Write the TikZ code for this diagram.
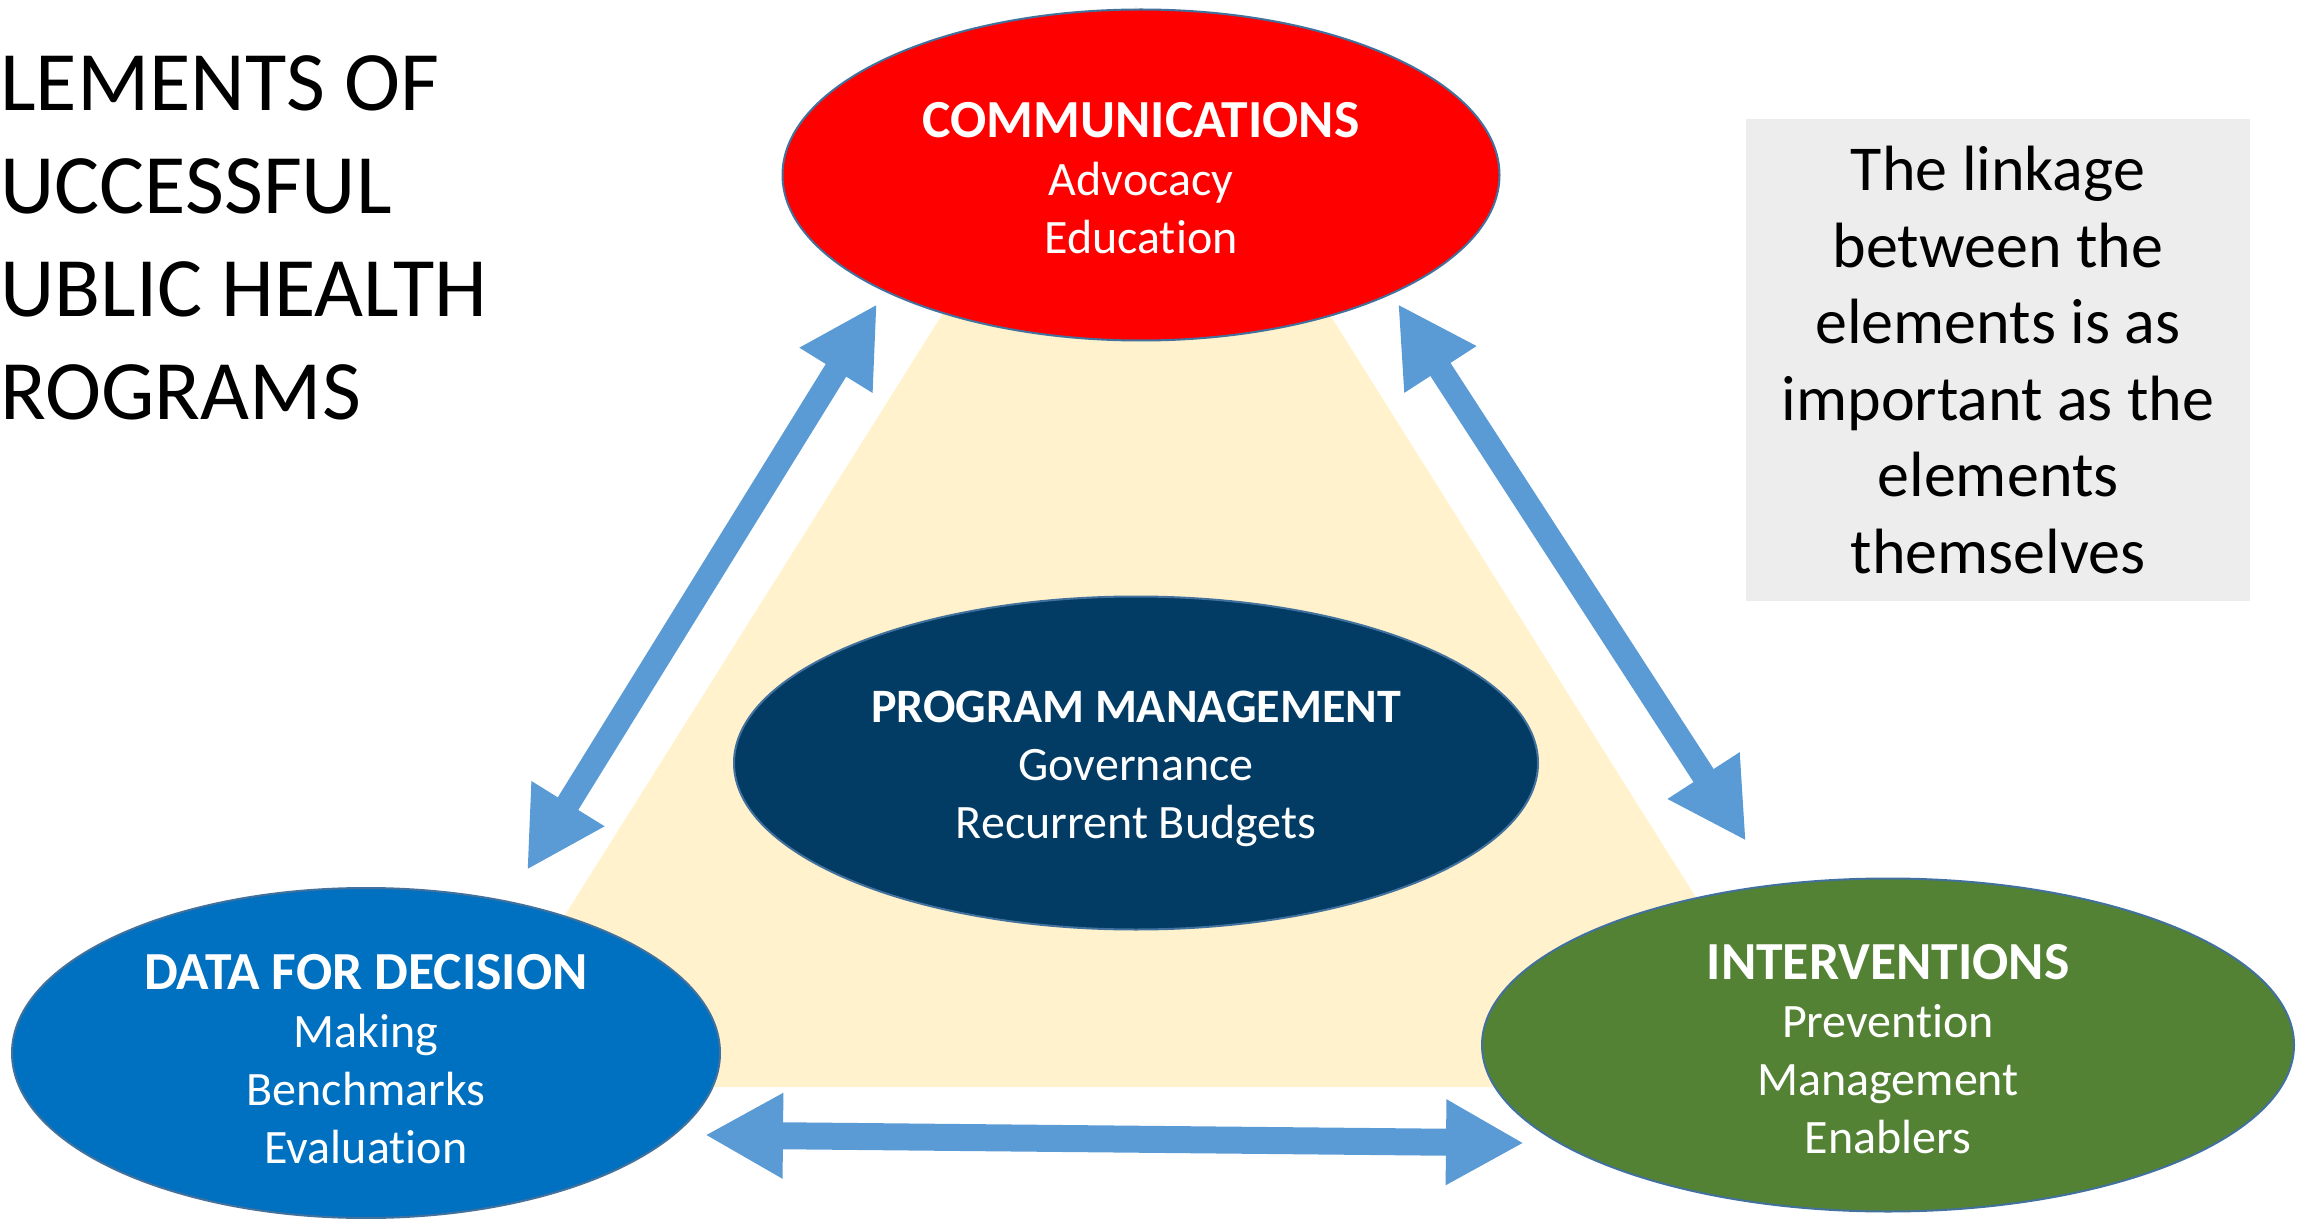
\documentclass[tikz,border=0pt]{standalone}
\usepackage{fontspec}
\setmainfont{Carlito}[Ligatures=NoCommon]
\usetikzlibrary{shapes.geometric,arrows.meta}
\definecolor{commred}{HTML}{FF0000}
\definecolor{pmnavy}{HTML}{023B64}
\definecolor{datablue}{HTML}{0070C0}
\definecolor{intgreen}{HTML}{548235}
\definecolor{arrowblue}{HTML}{5B9BD5}
\definecolor{trifill}{HTML}{FFF2CC}
\definecolor{notegray}{HTML}{EDEDED}
\definecolor{rimblue}{HTML}{41719C}
\newcommand{\hd}[1]{{\fontsize{26.8}{29}\selectfont\bfseries #1}}
\begin{document}
\begin{tikzpicture}[x=0.5pt,y=-0.5pt,
  elem/.style={ellipse, draw=rimblue, line width=1pt, inner sep=0pt},
  elemtext/.style={text=white, align=center, inner sep=0pt, font=\fontsize{24}{29}\selectfont},
  link/.style={draw=arrowblue, line width=12pt,
    {Triangle[length=39pt,width=40pt]}-{Triangle[length=39pt,width=40pt]}},
]
\useasboundingbox (0,0) rectangle (2313,1219);
% background triangle
\fill[trifill] (1136,6) -- (457,1087) -- (1815,1087) -- cycle;
% elements
\node[elem, fill=commred, minimum width=358.5pt, minimum height=165.5pt] (comm) at (1141,175) {};
\node[elem, fill=pmnavy, minimum width=402pt, minimum height=166.5pt] (pm) at (1136,763) {};
\node[elem, fill=datablue, minimum width=354pt, minimum height=165pt] (data) at (366,1053) {};
\node[elem, fill=intgreen, minimum width=406pt, minimum height=166.5pt] (interv) at (1888,1045) {};
\node[elemtext] (commtext) at ([yshift=-1.5pt]comm.center)
  {\hd{COMMUNICATIONS}\\Advocacy\\Education};
\node[elemtext] (pmtext) at ([yshift=-3pt]pm.center)
  {{\fontsize{24}{29}\selectfont\bfseries PROGRAM MANAGEMENT}\\Governance\\Recurrent Budgets};
\node[elemtext] (datatext) at ([yshift=-3pt]data.center)
  {\hd{DATA FOR DECISION}\\Making\\Benchmarks\\Evaluation};
\node[elemtext] (intervtext) at ([yshift=-2pt]interv.center)
  {\hd{INTERVENTIONS}\\Prevention\\Management\\Enablers};
% linking arrows
\coordinate (la) at (527,870);
\coordinate (lb) at (877,304);
\coordinate (ra) at (1398,304);
\coordinate (rb) at (1746,841);
\coordinate (ba) at (705,1135);
\coordinate (bb) at (1524,1143);
\draw[link] (la) -- (lb);
\draw[link] (ra) -- (rb);
\draw[link, line width=13.5pt] (ba) -- (bb);
% title
\node[anchor=north west, inner sep=0pt, align=left, font=\fontsize{42.3}{51.5}\selectfont] (title) at (0,55)
  {LEMENTS OF\\UCCESSFUL\\UBLIC HEALTH\\ROGRAMS};
% note
\node[fill=notegray, minimum width=252pt, minimum height=241pt, inner sep=0pt, align=center,
  font=\fontsize{32}{38.25}\selectfont] (note) at (1998,360)
  {The linkage\\between the\\elements is as\\important as the\\elements\\themselves};
\end{tikzpicture}
\end{document}
